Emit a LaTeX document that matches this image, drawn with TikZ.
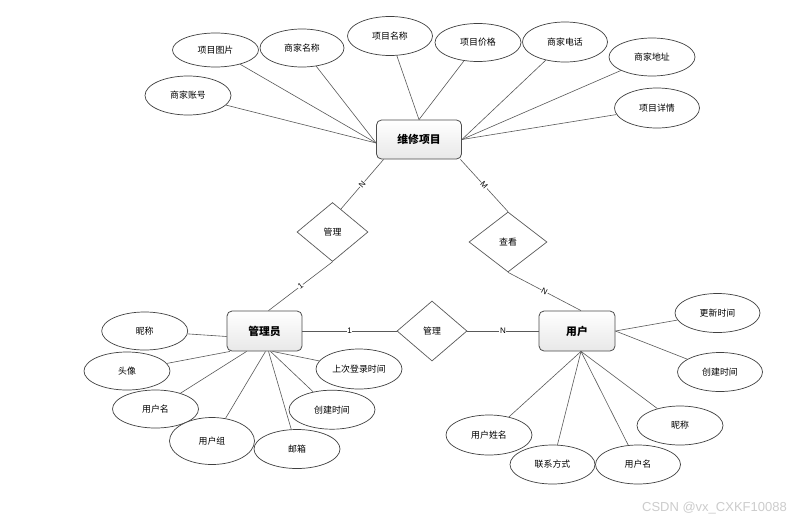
\documentclass[tikz,border=0pt]{standalone}
\usepackage{fontspec}
\setmainfont{Liberation Sans}
\newfontfamily\cjk{Noto Sans CJK SC}
\usetikzlibrary{shapes.geometric}
\begin{document}
\begin{tikzpicture}[x=1pt,y=-1pt,
  ent/.style={rectangle,rounded corners=5pt,draw=black!70,line width=0.8pt,top color=white,bottom color=black!9,inner sep=0pt,font=\cjk\bfseries\fontsize{10.8}{12}\selectfont},
  attr/.style={ellipse,draw=black!75,line width=0.7pt,fill=white,minimum width=86pt,minimum height=39pt,inner sep=0pt,font=\cjk\fontsize{8.9}{10}\selectfont},
  rel/.style={diamond,draw=black!65,line width=0.7pt,fill=white,inner sep=0pt,font=\cjk\fontsize{8.9}{10}\selectfont},
  ln/.style={draw=black!65,line width=0.6pt},
  card/.style={font=\fontsize{8}{9}\selectfont,fill=white,inner sep=0.6pt,sloped}
]
\useasboundingbox[fill=white] (0,0) rectangle (802,525);

% entities
\node[ent,minimum width=85pt,minimum height=39pt] (wx) at (419,139.5) {维修项目};
\node[ent,minimum width=75pt,minimum height=40pt] (gly) at (264.5,331) {管理员};
\node[ent,minimum width=76pt,minimum height=40pt] (yh) at (577,331) {用户};

% relations
\node[rel,minimum width=71pt,minimum height=59pt] (r1) at (332.5,232) {管理};
\node[rel,minimum width=78pt,minimum height=60pt] (r2) at (508,242) {查看};
\node[rel,minimum width=70pt,minimum height=60pt] (r3) at (432,331) {管理};

% attributes of 维修项目
\node[attr,minimum height=34pt] (a1) at (215.5,50) {项目图片};
\node[attr,minimum width=84pt,minimum height=38pt] (a2) at (302,48) {商家名称};
\node[attr,minimum width=85pt] (a3) at (390,36) {项目名称};
\node[attr] (a4) at (188,95.5) {商家账号};
\node[attr,minimum height=38pt] (a5) at (478,42.5) {项目价格};
\node[attr,minimum width=85pt,minimum height=40pt] (a6) at (565,42) {商家电话};
\node[attr,minimum height=38pt] (a7) at (652,57) {商家地址};
\node[attr,minimum width=85pt,minimum height=40pt] (a8) at (657,108) {项目详情};

% attributes of 管理员
\node[attr,minimum height=38pt] (b1) at (144.7,331) {昵称};
\node[attr,minimum height=38pt] (b2) at (127,371) {头像};
\node[attr,minimum height=38pt] (b3) at (155.5,409) {用户名};
\node[attr,minimum width=85pt,minimum height=47pt] (b4) at (212,441) {用户组};
\node[attr] (b5) at (297,449) {邮箱};
\node[attr] (b6) at (332,409.7) {创建时间};
\node[attr,minimum height=40pt] (b7) at (359,369) {上次登录时间};

% attributes of 用户
\node[attr,minimum width=85pt] (c1) at (717.5,313) {更新时间};
\node[attr,minimum width=85pt] (c2) at (720,372) {创建时间};
\node[attr] (c3) at (680,425.5) {昵称};
\node[attr,minimum height=40pt] (c4) at (489,435) {用户姓名};
\node[attr,minimum width=85pt] (c5) at (552.5,464.5) {联系方式};
\node[attr,minimum width=85pt] (c6) at (638,464.5) {用户名};

% junction points
\coordinate (wl) at ([yshift=-3.5pt]wx.west);
\coordinate (wt) at (wx.north);
\coordinate (wr) at (wx.east);
\coordinate (gb) at ([xshift=4pt]gly.south);
\coordinate (yb) at ([xshift=4pt]yh.south);

% attribute connectors
\foreach \a in {a1,a2,a4} \draw[ln] (\a) -- (wl);
\foreach \a in {a3,a5} \draw[ln] (\a) -- (wt);
\foreach \a in {a6,a7,a8} \draw[ln] (\a) -- (wr);

\draw[ln] (b1) -- ([yshift=-5.5pt]gly.west);
\draw[ln] (b2) -- ([xshift=3.5pt]gly.south west);
\draw[ln] (b3) -- ([xshift=20pt]gly.south west);
\draw[ln] (b4) -- ([xshift=1pt]gly.south);
\draw[ln] (b5) -- (gb);
\draw[ln] (b6) -- ([xshift=6pt]gly.south);
\draw[ln] (b7) -- ([xshift=8pt]gly.south);

\draw[ln] (c1) -- (yh.east);
\draw[ln] (c2) -- (yh.east);
\foreach \a in {c3,c4,c5,c6} \draw[ln] (\a) -- (yb);

% relationship connectors
\draw[ln] ([xshift=7.5pt]wx.south west) -- node[card]{N} (r1.70);
\draw[ln] (r1.south) -- node[card]{1} ([xshift=4pt]gly.north);
\draw[ln] ([xshift=-1.5pt]wx.south east) -- node[card]{M} (r2.north);
\draw[ln] (r2.south) -- node[card]{N} ([xshift=4pt]yh.north);
\draw[ln] (gly.east) -- node[card]{1} (r3.west);
\draw[ln] (r3.east) -- node[card]{N} (yh.west);

% watermark
\node[font=\fontsize{13}{14}\selectfont,text=black!20,anchor=east,inner sep=0pt] (wm) at (787,508) {CSDN @vx\_CXKF10088};
\end{tikzpicture}
\end{document}
